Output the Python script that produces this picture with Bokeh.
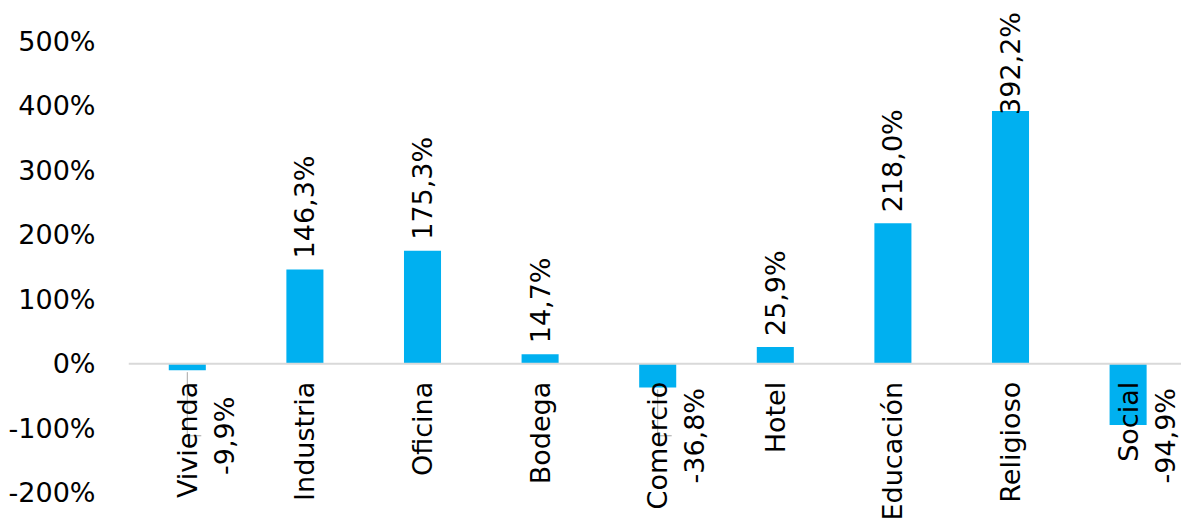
import math
from bokeh.plotting import figure
from bokeh.models import ColumnDataSource, Range1d, FixedTicker, CustomJSTickFormatter, Span
from bokeh.core.properties import value
from bokeh.embed import file_html
from bokeh.resources import INLINE

# ---- data ----
categories = ["Vivienda", "Industria", "Oficina", "Bodega", "Comercio",
              "Hotel", "Educación", "Religioso", "Social"]
changes = [-9.9, 146.3, 175.3, 14.7, -36.8, 25.9, 218.0, 392.2, -94.9]
y_ticks = [-200, -100, 0, 100, 200, 300, 400, 500]

FONT = "DejaVu Sans"
FS = "27px"
BLUE = "#00B0F0"

W, H = 1181, 520
LEFT = 128
Y0, Y1 = -243.1, 563.5
X0, X1 = -0.5, 8.454
px_y = H / (Y1 - Y0)
px_x = (W - LEFT) / (X1 - X0)

p = figure(width=W, height=H, x_range=Range1d(X0, X1), y_range=Range1d(Y0, Y1),
           output_backend="svg", toolbar_location=None,
           min_border_left=LEFT, min_border_right=0, min_border_top=0, min_border_bottom=0)
p.outline_line_color = None
p.xgrid.visible = False
p.ygrid.visible = False
p.xaxis.visible = False

ya = p.yaxis[0]
ya.ticker = FixedTicker(ticks=y_ticks)
ya.formatter = CustomJSTickFormatter(code="return tick.toFixed(0) + '%';")
ya.axis_line_color = None
ya.major_tick_line_color = None
ya.minor_tick_line_color = None
ya.major_tick_out = 0
ya.major_tick_in = 0
ya.major_label_standoff = 33
ya.major_label_text_font = FONT
ya.major_label_text_font_size = FS
ya.major_label_text_color = "#000000"

xs = list(range(len(categories)))
src = ColumnDataSource(dict(x=xs, top=changes, cat=categories))

p.add_layout(Span(location=0, dimension="width", line_color="#d9d9d9", line_width=2))
p.vbar(x="x", top="top", bottom=0, width=0.315, source=src, fill_color=BLUE, line_color=None)

# leader lines for small negative values (label placed below the axis)
lead_y = -72 / px_y
lx0, ly0, lx1, ly1 = [], [], [], []
for i, v in enumerate(changes):
    if v < 0 and abs(v) < 50:
        lx0 += [i, i]
        ly0 += [v - 2 / px_y, lead_y]
        lx1 += [i, i + 14 / px_x]
        ly1 += [lead_y, lead_y]
p.segment(x0=lx0, y0=ly0, x1=lx1, y1=ly1, line_color="#a6a6a6", line_width=1)

# category labels hanging below the zero line
p.text(x="x", y=0, text="cat", source=src, angle=math.pi / 2, y_offset=18,
       text_align="right", text_baseline="middle",
       text_font=value(FONT), text_font_size=FS, text_color="#000000")

def fmt(v):
    return f"{v:.1f}".replace(".", ",") + "%"

pos = [(i, v) for i, v in enumerate(changes) if v >= 0]
neg = [(i, v) for i, v in enumerate(changes) if v < 0]

pos_src = ColumnDataSource(dict(
    x=[i for i, _ in pos], y=[v for _, v in pos],
    t=[fmt(v) for _, v in pos],
    off=[(-11 if (v * px_y + 11 + 112) < ((Y1 - 15) * px_y) else 4) for _, v in pos]))
p.text(x="x", y="y", text="t", source=pos_src, angle=math.pi / 2, y_offset="off",
       text_align="left", text_baseline="middle",
       text_font=value(FONT), text_font_size=FS, text_color="#000000")

neg_src = ColumnDataSource(dict(
    x=[i for i, _ in neg], y=[0] * len(neg), t=[fmt(v) for _, v in neg]))
p.text(x="x", y="y", text="t", source=neg_src, angle=math.pi / 2, x_offset=37, y_offset=72,
       text_align="center", text_baseline="middle",
       text_font=value(FONT), text_font_size=FS, text_color="#000000")

open("out.html", "w").write(file_html(p, INLINE))
